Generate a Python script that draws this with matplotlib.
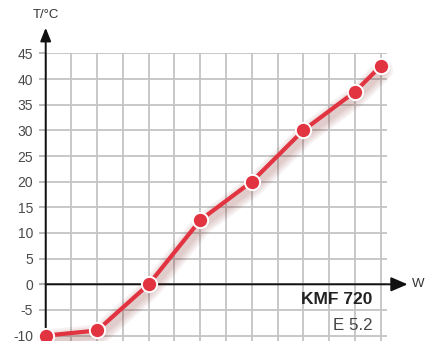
import matplotlib
matplotlib.use("Agg")
import matplotlib.pyplot as plt
import matplotlib.patheffects as pe

# Data
x_pos = [0, 2, 4, 6, 8, 10, 12, 13]
temps = [-10, -9, 0, 12.5, 20, 30, 37.5, 42.5]
y_ticks = [-10, -5, 0, 5, 10, 15, 20, 25, 30, 35, 40, 45]
y_label = "T/°C"
x_label = "W"
model = "KMF 720"
code = "E 5.2"

plt.rcParams['font.family'] = ['Liberation Sans', 'DejaVu Sans']

W, H = 428, 341
fig = plt.figure(figsize=(W / 100, H / 100), dpi=100)

x0px, x1px = 45.7, 387.0
ytop_px = 53.4
ax = fig.add_axes([x0px / W, 0, (x1px - x0px) / W, 1 - ytop_px / H])
ax.set_xlim(0, 13.25)
ax.set_ylim(-11.05, 45)
for s in ax.spines.values():
    s.set_visible(False)

ax.set_xticks(range(14))
ax.tick_params(axis='x', length=0, labelbottom=False)
ax.set_yticks(y_ticks)
ax.set_yticklabels([str(v) for v in y_ticks])
ax.tick_params(axis='y', length=5, width=1.2, color='#b0b0b0', pad=4,
               labelsize=10, labelcolor='#4a4a4a')
for t, v in zip(ax.yaxis.get_major_ticks(), y_ticks):
    if v == 0:
        t.tick1line.set_color('#111111')
        t.tick1line.set_markeredgewidth(1.5)
ax.grid(True, color='#c4c4c4', linewidth=1.3)
ax.set_axisbelow(True)

# axes with arrows
ax.annotate('', xy=(0, 50.0), xytext=(0, -11.05), annotation_clip=False,
            arrowprops=dict(arrowstyle='-|>,head_length=0.8,head_width=0.32',
                            color='#111111', lw=1.4, shrinkA=0, shrinkB=0),
            zorder=3)
ax.annotate('', xy=(14.05, 0), xytext=(0, 0), annotation_clip=False,
            arrowprops=dict(arrowstyle='-|>,head_length=1.0,head_width=0.43',
                            color='#111111', lw=1.4, shrinkA=0, shrinkB=0),
            zorder=3)

fig.text(46 / W, 1 - 15 / H, y_label, ha='center', va='center', fontsize=9.5, color='#333333')
fig.text(418 / W, 1 - 284 / H, x_label, ha='center', va='center', fontsize=9.5, color='#333333')
fig.text(372.5 / W, 1 - 299 / H, model, ha='right', va='center', fontsize=12.5,
         fontweight='bold', color='#222222')
fig.text(372.5 / W, 1 - 326 / H, code, ha='right', va='center', fontsize=12.2,
         color='#444444')

red = '#e23340'
shadow = [pe.SimpleLineShadow(offset=(1.5, -3), shadow_color='#7a1a1a', alpha=0.06,
                              linewidth=w) for w in (15, 12, 9, 6)]
ax.plot(x_pos, temps, color=red, lw=3.0, solid_capstyle='round', clip_on=False,
        path_effects=shadow + [pe.Normal()], zorder=4)
ax.plot(x_pos, temps, linestyle='none', marker='o', markersize=11,
        markerfacecolor=red, markeredgecolor='white', markeredgewidth=1.4,
        clip_on=False, zorder=5)

fig.savefig('out.png', dpi=100)
